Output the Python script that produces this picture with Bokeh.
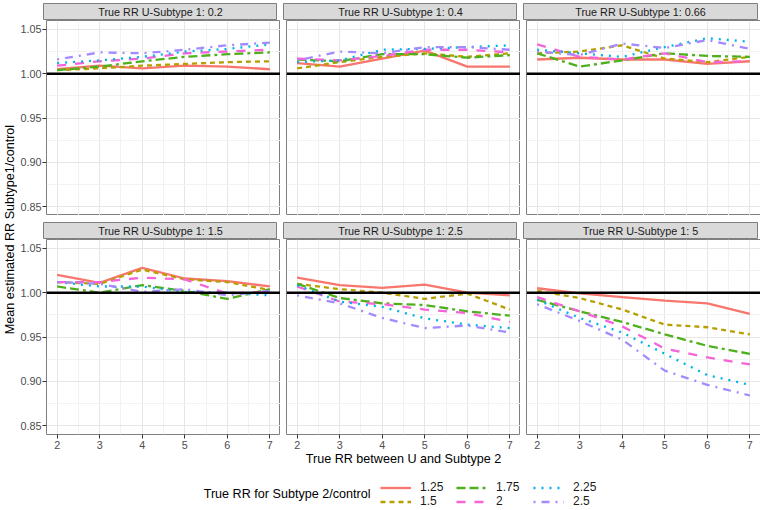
import math
from bokeh.plotting import figure
from bokeh.layouts import row, column
from bokeh.models import (Range1d, FixedTicker, NumeralTickFormatter, Span,
                          Legend, LegendItem, Label)
from bokeh.embed import file_html
from bokeh.resources import INLINE
from bokeh.core.properties import value

# ---------------- data ----------------
x_values = [2, 3, 4, 5, 6, 7]
series_labels = ["1.25", "1.5", "1.75", "2", "2.25", "2.5"]
panel_labels = ["0.2", "0.4", "0.66", "1.5", "2.5", "5"]
y_ticks = [0.85, 0.90, 0.95, 1.00, 1.05]
y_minor = [0.875, 0.925, 0.975, 1.025]
x_minor = [2.5, 3.5, 4.5, 5.5, 6.5]
reference_rr = 1.0

# each panel: one list per series (1.25, 1.5, 1.75, 2, 2.25, 2.5)
panel_0_2 = [
    [1.005, 1.009, 1.006, 1.009, 1.008, 1.005],
    [1.004, 1.006, 1.009, 1.011, 1.013, 1.014],
    [1.004, 1.008, 1.014, 1.019, 1.022, 1.024],
    [1.009, 1.014, 1.017, 1.023, 1.025, 1.027],
    [1.012, 1.015, 1.019, 1.025, 1.028, 1.033],
    [1.016, 1.024, 1.023, 1.027, 1.032, 1.035],
]
panel_0_4 = [
    [1.012, 1.008, 1.017, 1.026, 1.008, 1.008],
    [1.006, 1.013, 1.019, 1.023, 1.019, 1.023],
    [1.016, 1.014, 1.022, 1.022, 1.018, 1.021],
    [1.017, 1.015, 1.020, 1.027, 1.027, 1.024],
    [1.013, 1.015, 1.027, 1.028, 1.030, 1.032],
    [1.015, 1.025, 1.023, 1.030, 1.030, 1.027],
]
panel_0_66 = [
    [1.016, 1.018, 1.016, 1.016, 1.011, 1.014],
    [1.023, 1.025, 1.032, 1.017, 1.013, 1.019],
    [1.023, 1.008, 1.015, 1.023, 1.020, 1.019],
    [1.033, 1.019, 1.016, 1.023, 1.013, 1.014],
    [1.027, 1.023, 1.019, 1.030, 1.040, 1.036],
    [1.025, 1.021, 1.034, 1.029, 1.038, 1.028],
]
panel_1_5 = [
    [1.020, 1.011, 1.028, 1.016, 1.013, 1.007],
    [1.012, 1.010, 1.026, 1.015, 1.012, 1.003],
    [1.007, 1.000, 1.0085, 1.002, 0.993, 1.004],
    [1.012, 1.012, 1.017, 1.015, 0.999, 1.001],
    [1.012, 1.007, 1.007, 1.001, 1.000, 0.997],
    [1.012, 1.010, 1.001, 1.004, 0.997, 1.002],
]
panel_2_5 = [
    [1.017, 1.0085, 1.0055, 1.009, 1.000, 0.997],
    [1.010, 1.004, 1.000, 0.993, 0.999, 0.981],
    [1.010, 0.994, 0.988, 0.986, 0.979, 0.974],
    [1.007, 0.990, 0.987, 0.981, 0.977, 0.967],
    [1.0085, 0.990, 0.984, 0.971, 0.964, 0.960],
    [0.997, 0.988, 0.9715, 0.960, 0.963, 0.955],
]
panel_5 = [
    [1.005, 0.9993, 0.995, 0.991, 0.988, 0.976],
    [1.002, 0.994, 0.981, 0.964, 0.961, 0.953],
    [0.992, 0.979, 0.967, 0.953, 0.940, 0.931],
    [0.995, 0.979, 0.962, 0.937, 0.927, 0.919],
    [0.992, 0.9715, 0.955, 0.931, 0.907, 0.896],
    [0.987, 0.968, 0.947, 0.912, 0.896, 0.884],
]
panels = [panel_0_2, panel_0_4, panel_0_66, panel_1_5, panel_2_5, panel_5]

# ---------------- styles ----------------
FONT = "Liberation Sans"
colors = ["#F8766D", "#B79F00", "#4FB01E", "#F564D8", "#00B3E6", "#A58AFF"]
dashes = ["solid", "5 4", "9 4 9 4 3 4", "9 9", "2 6", "2 6 8 6"]
LW = 2.3
YT_W = 17
FRAME_W = 234
FRAME_H = 195
STRIP_H = 17
TOP_B = 3
LEFT_B = 26
GAP = 6
VGAP = 7
RIGHT_B = 1
BOTTOM_B = 34
BORDER = "#7F7F7F"
TOTAL_H = 508


def borders(col):
    left = LEFT_B if col == 0 else GAP
    right = RIGHT_B if col == 2 else 0
    return left, right


def make_strip(idx):
    r, c = divmod(idx, 3)
    left, right = borders(c)
    s = figure(frame_width=FRAME_W, frame_height=STRIP_H,
               x_range=Range1d(0, 1), y_range=Range1d(0, 1),
               x_axis_location=None, y_axis_location=None,
               toolbar_location=None, output_backend="svg",
               min_border_left=left, min_border_right=right,
               min_border_top=TOP_B if r == 0 else VGAP, min_border_bottom=0)
    s.grid.visible = False
    s.background_fill_color = "#D9D9D9"
    s.outline_line_color = BORDER
    s.outline_line_width = 1
    s.add_layout(Label(x=0.5, y=0.5, text="True RR U-Subtype 1: " + panel_labels[idx],
                       text_align="center", text_baseline="middle",
                       text_font=FONT, text_font_size="10.8px",
                       text_color="#1A1A1A"))
    return s


def make_panel(idx):
    r, c = divmod(idx, 3)
    left, right = borders(c)
    p = figure(frame_width=FRAME_W, frame_height=FRAME_H,
               x_range=Range1d(1.75, 7.25), y_range=Range1d(0.84, 1.06),
               x_axis_location="below" if r == 1 else None,
               y_axis_location="left" if c == 0 else None,
               toolbar_location=None, output_backend="svg",
               min_border_left=left, min_border_right=right,
               min_border_top=0, min_border_bottom=BOTTOM_B if r == 1 else 0)
    p.background_fill_color = "white"
    p.outline_line_color = BORDER
    p.outline_line_width = 1
    p.xgrid.ticker = FixedTicker(ticks=x_values, minor_ticks=x_minor)
    p.ygrid.ticker = FixedTicker(ticks=y_ticks, minor_ticks=y_minor)
    for g in (p.xgrid, p.ygrid):
        g.grid_line_color = "#E6E6E6"
        g.grid_line_width = 1
        g.minor_grid_line_color = "#F2F2F2"
        g.minor_grid_line_width = 1
    for ax in list(p.xaxis) + list(p.yaxis):
        ax.axis_line_color = None
        ax.major_tick_line_color = "#333333"
        ax.major_tick_out = 4
        ax.major_tick_in = 0
        ax.minor_tick_line_color = None
        ax.major_label_standoff = 1
        ax.major_label_text_font = FONT
        ax.major_label_text_font_size = "10.8px"
        ax.major_label_text_color = "#4D4D4D"
    if r == 1:
        p.xaxis.ticker = FixedTicker(ticks=x_values)
        p.xaxis.major_label_standoff = 2
        if c == 1:
            p.xaxis.axis_label = "True RR between U and Subtype 2"
            p.xaxis.axis_label_text_font = FONT
            p.xaxis.axis_label_text_font_size = "12.6px"
            p.xaxis.axis_label_text_font_style = "normal"
            p.xaxis.axis_label_text_color = "black"
            p.xaxis.axis_label_standoff = 0
    if c == 0:
        p.yaxis.ticker = FixedTicker(ticks=y_ticks)
        p.yaxis.formatter = NumeralTickFormatter(format="0.00")
    for k, ys in enumerate(panels[idx]):
        p.line(x_values, ys, line_color=colors[k], line_width=LW,
               line_dash=dashes[k])
    p.add_layout(Span(location=reference_rr, dimension="width",
                      line_color="black", line_width=2.5))
    return p


strips = [make_strip(i) for i in range(6)]
plots = [make_panel(i) for i in range(6)]

grid = column(row(*strips[0:3]), row(*plots[0:3]),
              row(*strips[3:6]), row(*plots[3:6]))
GRID_H = TOP_B + STRIP_H + FRAME_H + VGAP + STRIP_H + FRAME_H + BOTTOM_B
GRID_W = YT_W + LEFT_B + 3 * FRAME_W + 2 * GAP + RIGHT_B

# y axis title
yt = figure(frame_width=YT_W, frame_height=GRID_H,
            x_range=Range1d(0, YT_W), y_range=Range1d(0, GRID_H),
            x_axis_location=None, y_axis_location=None,
            toolbar_location=None, output_backend="svg", min_border=0)
yt.grid.visible = False
yt.outline_line_color = None
yt.add_layout(Label(x=9.5, y=GRID_H - 229, text="Mean estimated RR Subtype1/control",
                    angle=math.pi / 2, text_align="center", text_baseline="middle",
                    text_font=FONT, text_font_size="12.6px", text_color="black"))

# legend figure
LEG_W = GRID_W
LEG_H = TOTAL_H - GRID_H
lf = figure(frame_width=LEG_W, frame_height=LEG_H,
            x_range=Range1d(0, LEG_W), y_range=Range1d(0, LEG_H),
            x_axis_location=None, y_axis_location=None,
            toolbar_location=None, output_backend="svg", min_border=0)
lf.grid.visible = False
lf.outline_line_color = None
nan = float("nan")
rends = [lf.line(x=[nan], y=[nan], line_color=colors[k], line_width=LW,
                 line_dash=dashes[k]) for k in range(6)]
key_x = [380, 456, 533]
for j in range(3):
    items = [LegendItem(label=value(series_labels[2 * j + m]), renderers=[rends[2 * j + m]])
             for m in range(2)]
    leg = Legend(items=items, location=(key_x[j], 0), orientation="vertical",
                 glyph_width=31, glyph_height=13, label_height=13, spacing=-2,
                 padding=0, margin=0, label_standoff=9,
                 background_fill_alpha=0, border_line_color=None,
                 label_text_font=FONT, label_text_font_size="12px",
                 label_text_color="#1A1A1A", label_text_baseline="middle")
    lf.add_layout(leg, "center")
lf.add_layout(Label(x=370, y=15, text="True RR for Subtype 2/control",
                    text_align="right", text_baseline="middle",
                    text_font=FONT, text_font_size="12.6px", text_color="black"))

page = column(row(yt, grid), lf)

open("out.html", "w").write(file_html(page, INLINE))
